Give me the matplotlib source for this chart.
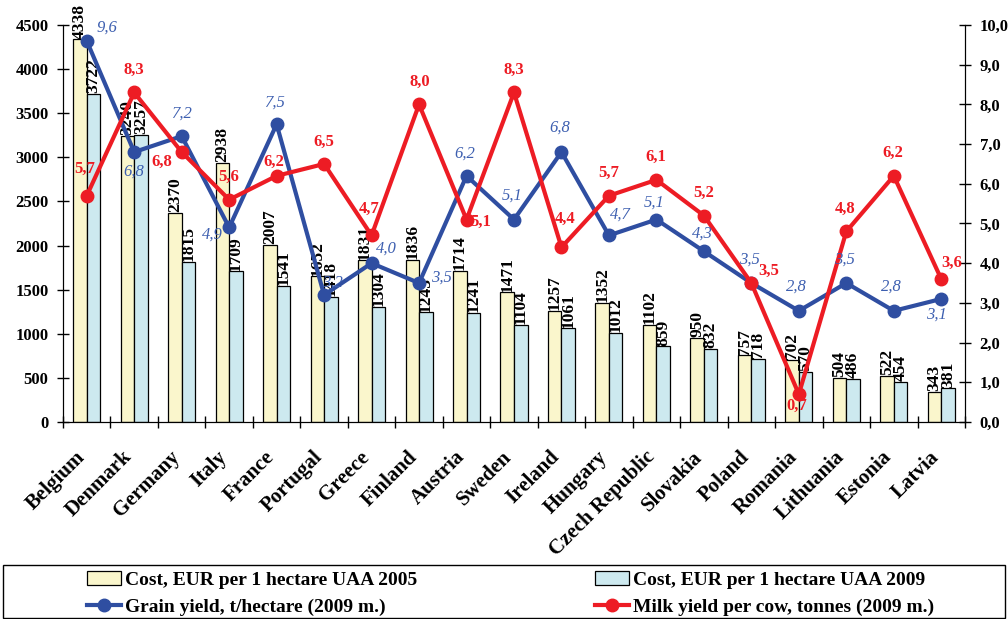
import numpy as np
import matplotlib.pyplot as plt
import matplotlib.transforms as mtransforms
from matplotlib.lines import Line2D
from matplotlib.patches import Patch, Rectangle

plt.rcParams['font.family'] = 'Liberation Serif'

# ── DATA ─────────────────────────────────────────────────────────────
countries = ['Belgium', 'Denmark', 'Germany', 'Italy', 'France', 'Portugal',
             'Greece', 'Finland', 'Austria', 'Sweden', 'Ireland', 'Hungary',
             'Czech Republic', 'Slovakia', 'Poland', 'Romania', 'Lithuania',
             'Estonia', 'Latvia']
cost_2005 = [4338, 3240, 2370, 2938, 2007, 1652, 1831, 1836, 1714, 1471,
             1257, 1352, 1102, 950, 757, 702, 504, 522, 343]
cost_2009 = [3722, 3257, 1815, 1709, 1541, 1418, 1304, 1243, 1241, 1104,
             1061, 1012, 859, 832, 718, 570, 486, 454, 381]
grain_yield = [9.6, 6.8, 7.2, 4.9, 7.5, 3.2, 4.0, 3.5, 6.2, 5.1,
               6.8, 4.7, 5.1, 4.3, 3.5, 2.8, 3.5, 2.8, 3.1]
milk_yield = [5.7, 8.3, 6.8, 5.6, 6.2, 6.5, 4.7, 8.0, 5.1, 8.3,
              4.4, 5.7, 6.1, 5.2, 3.5, 0.7, 4.8, 6.2, 3.6]

# label offsets in pixels (dx, dy) so the value texts dodge the lines
grain_off = [(20, 13), (0, -20), (0, 23), (-17, -7), (-2, 22), (8, 12),
             (15, 15), (22, 5), (-2, 22), (-2, 24), (-2, 24), (11, 21),
             (-2, 17), (-2, 18), (-2, 23), (-2, 24), (-2, 23), (-2, 24),
             (-5, -16)]
milk_off = [(-2, 27), (0, 23), (-20, -10), (0, 23), (-3, 14), (0, 22),
            (-2, 27), (1, 23), (14, -2), (0, 23), (4, 28), (0, 23),
            (-1, 23), (0, 23), (17, 12), (-2, -12), (-1, 23), (-1, 23),
            (10, 16)]

YELLOW = '#faf6cc'
CYAN   = '#cde9ef'
BLUE   = '#2f4ea1'
BLUE_T = '#3d5fb0'
RED    = '#ed1c24'

def comma(v):
    return f"{v:.1f}".replace('.', ',')

# ── FIGURE ───────────────────────────────────────────────────────────
fig = plt.figure(figsize=(10.08, 6.19), dpi=100)
ax = fig.add_axes([63/1008, 1 - 422/619, (965 - 63)/1008, (422 - 25)/619])

x = np.arange(len(countries))
w = 0.285
ax.bar(x - w/2, cost_2005, w, color=YELLOW, edgecolor='black', lw=0.9, zorder=2)
ax.bar(x + w/2, cost_2009, w, color=CYAN, edgecolor='black', lw=0.9, zorder=2)

for xi, v in zip(x - w/2, cost_2005):
    ax.text(xi, v + 8, str(v), rotation=90, ha='center', va='bottom',
            fontsize=12.5, fontweight='bold', zorder=3)
for xi, v in zip(x + w/2, cost_2009):
    ax.text(xi, v + 8, str(v), rotation=90, ha='center', va='bottom',
            fontsize=12.5, fontweight='bold', zorder=3)

ax.set_xlim(-0.5, len(countries) - 0.5)
ax.set_ylim(0, 4500)
ax.set_yticks(np.arange(0, 4501, 500))
ax.set_xticks(np.arange(-0.5, len(countries), 1))
ax.set_xticklabels([])
ax.set_xticks(x, minor=True)
ax.set_xticklabels(countries, minor=True, rotation=45, ha='right',
                   rotation_mode='anchor', fontsize=15, fontweight='bold')
ax.tick_params(axis='x', which='major', direction='inout', length=9, width=1)
ax.tick_params(axis='x', which='minor', length=0, pad=18)
shift = mtransforms.ScaledTranslation(-12/100, 0, fig.dpi_scale_trans)
for t in ax.get_xticklabels(minor=True):
    t.set_transform(t.get_transform() + shift)
ax.tick_params(axis='y', direction='inout', length=9, width=1, pad=6,
               labelsize=12)
for t in ax.get_yticklabels():
    t.set_fontweight('bold')
ax.spines['top'].set_visible(False)

# ── RIGHT AXIS: yields ───────────────────────────────────────────────
ax2 = ax.twinx()
ax2.set_ylim(0, 10)
ax2.set_yticks(np.arange(0, 11, 1))
ax2.set_yticklabels([comma(v) for v in np.arange(0, 11, 1)],
                    fontsize=12, fontweight='bold')
ax2.tick_params(axis='y', direction='inout', length=9, width=1, pad=6)
ax2.spines['top'].set_visible(False)

ax2.plot(x, grain_yield, color=BLUE, lw=3, marker='o', ms=9, zorder=4)
ax2.plot(x, milk_yield, color=RED, lw=3, marker='o', ms=9, zorder=5)

for xi, v, (dx, dy) in zip(x, grain_yield, grain_off):
    ax2.annotate(comma(v), (xi, v), xytext=(dx, dy), textcoords='offset pixels',
                 ha='center', va='center', fontsize=12, fontstyle='italic',
                 color=BLUE_T, zorder=6)
for xi, v, (dx, dy) in zip(x, milk_yield, milk_off):
    ax2.annotate(comma(v), (xi, v), xytext=(dx, dy), textcoords='offset pixels',
                 ha='center', va='center', fontsize=12, fontweight='bold',
                 color=RED, zorder=6)

# ── LEGEND ───────────────────────────────────────────────────────────
handles = [Patch(facecolor=YELLOW, edgecolor='black', lw=0.9),
           Line2D([], [], color=BLUE, lw=3, marker='o', ms=9),
           Patch(facecolor=CYAN, edgecolor='black', lw=0.9),
           Line2D([], [], color=RED, lw=3, marker='o', ms=9)]
labels = ['Cost, EUR per 1 hectare UAA 2005',
          'Grain yield, t/hectare (2009 m.)',
          'Cost, EUR per 1 hectare UAA 2009',
          'Milk yield per cow, tonnes (2009 m.)']
fig.legend(handles, labels, ncol=2, loc='upper left',
           bbox_to_anchor=(87/1008, 1 - 571/619), frameon=False,
           borderpad=0, borderaxespad=0, handlelength=1.75, handletextpad=0.2,
           columnspacing=9.15, labelspacing=0.5, numpoints=1,
           prop={'size': 14, 'weight': 'bold'})
fig.patches.append(Rectangle((3/1008, 1/619), 1002/1008, 53/619,
                             transform=fig.transFigure, fill=False,
                             edgecolor='black', lw=1))

fig.savefig('out.png', dpi=100)
